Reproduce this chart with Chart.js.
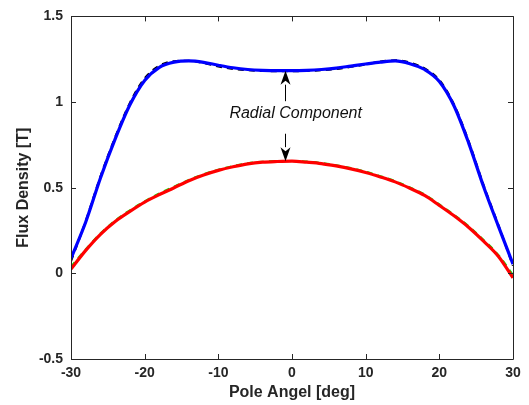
<!DOCTYPE html>
<html>
<head>
<meta charset="utf-8">
<script src="https://cdn.jsdelivr.net/npm/chart.js@4/dist/chart.umd.min.js"></script>
<style>
  html, body { margin: 0; padding: 0; background: #fff; }
  #wrap { width: 529px; height: 405px; position: relative; }
</style>
</head>
<body>
<div id="wrap"><canvas id="c"></canvas></div>
<script>
/* ---- dados ---- */
const angles = [-30, -28, -26, -24, -22, -20, -18, -16, -14, -12, -10, -8, -6, -4, -2, 0,
  2, 4, 6, 8, 10, 12, 14, 16, 18, 20, 22, 24, 26, 28, 30];

// componente radial - curva azul (cheia) e preta (tracejada)
const radialBlue = [0.087, 0.300, 0.557, 0.785, 0.984, 1.126, 1.203, 1.233, 1.240, 1.232, 1.215, 1.200, 1.190, 1.185, 1.183, 1.183,
  1.185, 1.190, 1.198, 1.210, 1.222, 1.233, 1.240, 1.224, 1.190, 1.120, 0.977, 0.759, 0.507, 0.277, 0.054];
const radialBlack = [0.072, 0.305, 0.565, 0.795, 0.995, 1.138, 1.212, 1.238, 1.241, 1.228, 1.208, 1.194, 1.186, 1.182, 1.180, 1.180,
  1.182, 1.186, 1.193, 1.206, 1.220, 1.236, 1.243, 1.230, 1.196, 1.128, 0.985, 0.768, 0.515, 0.283, 0.045];

// curva vermelha (cheia) e verde (tracejada)
const lowerRed = [0.025, 0.134, 0.228, 0.303, 0.362, 0.416, 0.460, 0.500, 0.541, 0.574, 0.601, 0.622, 0.639, 0.649, 0.653, 0.655,
  0.649, 0.641, 0.627, 0.610, 0.589, 0.563, 0.534, 0.497, 0.455, 0.397, 0.336, 0.268, 0.188, 0.100, -0.026];
const lowerGreen = [0.038, 0.140, 0.232, 0.308, 0.368, 0.420, 0.466, 0.506, 0.545, 0.578, 0.605, 0.626, 0.642, 0.651, 0.655, 0.656,
  0.652, 0.644, 0.631, 0.614, 0.593, 0.567, 0.538, 0.501, 0.460, 0.402, 0.341, 0.274, 0.195, 0.108, -0.010];

const xTicks = [-30, -20, -10, 0, 10, 20, 30];
const yTicks = [-0.5, 0, 0.5, 1, 1.5];

const annotationText = "Radial Component";
const arrowAngle = -0.9;
const textAngle = 0.5;
const textLevel = 0.93;
const upperArrow = [1.005, 1.183];  // [cauda, ponta]
const lowerArrow = [0.815, 0.655];

const ink = "#262626";

function pts(ys) { return angles.map((a, i) => ({ x: a, y: ys[i] })); }

/* moldura + ticks para dentro (estilo MATLAB) */
const boxPlugin = {
  id: "box",
  afterDatasetsDraw(chart) {
    const { ctx, chartArea: a, scales } = chart;
    ctx.save();
    ctx.strokeStyle = ink;
    ctx.lineWidth = 1;
    ctx.beginPath();
    ctx.rect(Math.round(a.left) + 0.5, Math.round(a.top) + 0.5, Math.round(a.right - a.left), Math.round(a.bottom - a.top));
    ctx.stroke();
    const tl = 5;
    ctx.beginPath();
    xTicks.forEach((v) => {
      const x = Math.round(scales.x.getPixelForValue(v)) + 0.5;
      ctx.moveTo(x, a.bottom); ctx.lineTo(x, a.bottom - tl);
      ctx.moveTo(x, a.top); ctx.lineTo(x, a.top + tl);
    });
    yTicks.forEach((v) => {
      const y = Math.round(scales.y.getPixelForValue(v)) + 0.5;
      ctx.moveTo(a.left, y); ctx.lineTo(a.left + tl, y);
      ctx.moveTo(a.right, y); ctx.lineTo(a.right - tl, y);
    });
    ctx.stroke();
    ctx.restore();
  },
};

/* texto + setas da anotação */
function arrow(ctx, x, y0, y1) {
  const dir = y1 > y0 ? 1 : -1;
  const len = 14, half = 5, notch = 4;
  ctx.beginPath();
  ctx.moveTo(x, y0);
  ctx.lineTo(x, y1 - dir * len);
  ctx.stroke();
  ctx.beginPath();
  ctx.moveTo(x, y1);
  ctx.lineTo(x - half, y1 - dir * len);
  ctx.lineTo(x, y1 - dir * (len - notch));
  ctx.lineTo(x + half, y1 - dir * len);
  ctx.closePath();
  ctx.fill();
}

const annotPlugin = {
  id: "annot",
  afterDraw(chart) {
    const { ctx, scales } = chart;
    const px = (v) => scales.x.getPixelForValue(v);
    const py = (v) => scales.y.getPixelForValue(v);
    ctx.save();
    ctx.strokeStyle = "#000";
    ctx.fillStyle = "#000";
    ctx.lineWidth = 1;
    const ax = Math.round(px(arrowAngle)) + 0.5;
    arrow(ctx, ax, py(upperArrow[0]), py(upperArrow[1]));
    arrow(ctx, ax, py(lowerArrow[0]), py(lowerArrow[1]));
    ctx.font = "italic 16px 'Liberation Sans', Arial, sans-serif";
    ctx.textAlign = "center";
    ctx.textBaseline = "middle";
    ctx.fillStyle = "#111";
    ctx.fillText(annotationText, px(textAngle), py(textLevel));
    ctx.restore();
  },
};

const tickFont = { family: "'Liberation Sans', Arial, sans-serif", size: 14, weight: "bold" };
const titleFont = { family: "'Liberation Sans', Arial, sans-serif", size: 16, weight: "bold" };

new Chart(document.getElementById("c"), {
  type: "line",
  data: {
    datasets: [
      { data: pts(radialBlue), borderColor: "#0000ff", borderWidth: 3.2 },
      { data: pts(lowerRed), borderColor: "#ff0000", borderWidth: 3.2 },
      { data: pts(radialBlack), borderColor: "#000000", borderWidth: 2.2, borderDash: [6, 5] },
      { data: pts(lowerGreen), borderColor: "#00ee00", borderWidth: 2.2, borderDash: [6, 5] },
    ].map((d) => Object.assign({ pointRadius: 0, cubicInterpolationMode: "monotone", fill: false, backgroundColor: "transparent" }, d)),
  },
  options: {
    responsive: true,
    maintainAspectRatio: false,
    animation: false,
    layout: { padding: { top: 13, right: 16, left: 0, bottom: 0 } },
    plugins: { legend: { display: false }, tooltip: { enabled: false } },
    scales: {
      x: {
        type: "linear", min: -30, max: 30,
        afterBuildTicks: (s) => { s.ticks = xTicks.map((v) => ({ value: v })); },
        afterFit: (s) => { s.height = 46; },
        grid: { display: false, tickLength: 0 }, border: { display: false },
        ticks: { font: tickFont, color: ink, padding: 6, maxRotation: 0, callback: (v) => String(v) },
        title: { display: true, text: "Pole Angel [deg]", font: titleFont, color: ink, padding: { top: 0, bottom: 3 } },
      },
      y: {
        type: "linear", min: -0.5, max: 1.5,
        afterBuildTicks: (s) => { s.ticks = yTicks.map((v) => ({ value: v })); },
        afterFit: (s) => { s.width = 71; },
        grid: { display: false, tickLength: 0 }, border: { display: false },
        ticks: { font: tickFont, color: ink, padding: 8, callback: (v) => String(v) },
        title: { display: true, text: "Flux Density [T]", font: titleFont, color: ink, padding: { top: 14, bottom: 0 } },
      },
    },
  },
  plugins: [boxPlugin, annotPlugin],
});
</script>
</body>
</html>
